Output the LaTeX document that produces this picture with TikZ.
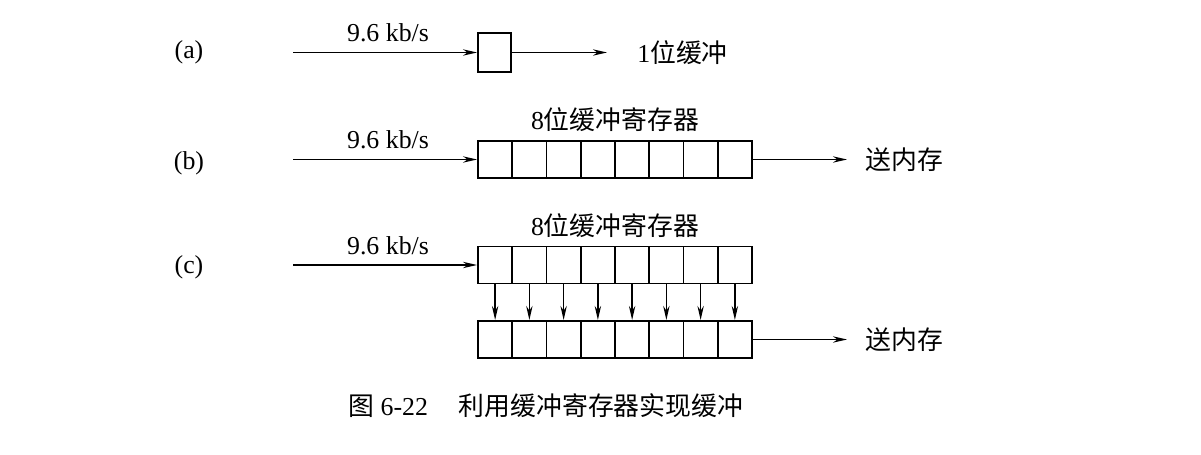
\documentclass[tikz,border=0pt]{standalone}
\usepackage{fontspec}
\setmainfont{Liberation Serif}
\newfontfamily\cjk{Noto Sans CJK SC}
\usetikzlibrary{arrows.meta}
\tikzset{
	cell/.style={draw,line width=1.1pt,minimum width=0.685cm,minimum height=0.74cm,inner sep=0pt},
	flow/.style={line width=0.8pt,-{Stealth[length=8pt,width=3.6pt]}},
	txt/.style={font=\fontsize{14.7}{17}\selectfont,inner sep=0pt}
}

\begin{document}
\begin{tikzpicture}[x=0.02cm,y=-0.02cm]
	\useasboundingbox (0,0) rectangle (1201,455);
	% (a) one bit
	\node [txt] (la) at (189,52) {(a)};
	\node [cell,minimum width=0.66cm,minimum height=0.78cm] (a1) at (494.5,52.5) {};
	\coordinate (ina) at (293,52.5);
	\coordinate (outa) at (607,52.5);
	\node [txt,anchor=base] (ra) at (388,42) {9.6 kb/s};
	\node [txt,anchor=west] (ta) at (637,53) {1{\cjk 位缓冲}};
	\draw [flow] (ina) -- (a1.west);
	\draw [flow] (a1.east) -- (outa);
	
	% (b) 8 bit register
	\node [txt] (lb) at (189,163) {(b)};
	\foreach \i in {1,...,8}
		\node [cell] (b\i) at ({460.875+34.25*\i},159.5) {};
	\coordinate (inb) at (293,159.5);
	\coordinate (outb) at (847,159.5);
	\node [txt,anchor=base] (rb) at (388,149) {9.6 kb/s};
	\node [txt] (hb) at (615,120) {8{\cjk 位缓冲寄存器}};
	\node [txt,anchor=west] (tb) at (865,159.5) {\cjk 送内存};
	\draw [flow] (inb) -- (b1.west);
	\draw [flow] (b8.east) -- (outb);
	
	% (c) two registers
	\node [txt] (lc) at (189,267) {(c)};
	\foreach \i in {1,...,8} {
		\node [cell] (c\i) at ({460.875+34.25*\i},265) {};
		\node [cell] (d\i) at ({460.875+34.25*\i},339.5) {};
	}
	\foreach \i in {1,...,8}
		\draw [flow] (c\i.south) -- (d\i.north);
	\coordinate (inc) at (293,265);
	\coordinate (outc) at (847,339.5);
	\node [txt,anchor=base] (rc) at (388,255) {9.6 kb/s};
	\node [txt] (hc) at (615,226) {8{\cjk 位缓冲寄存器}};
	\node [txt,anchor=west] (tc) at (865,339.5) {\cjk 送内存};
	\draw [flow] (inc) -- (c1.west);
	\draw [flow] (d8.east) -- (outc);
	
	\node [txt,anchor=west] (cap) at (348,406) {{\cjk 图} 6-22\hspace{1.2em}{\cjk 利用缓冲寄存器实现缓冲}};
\end{tikzpicture}
\end{document}
